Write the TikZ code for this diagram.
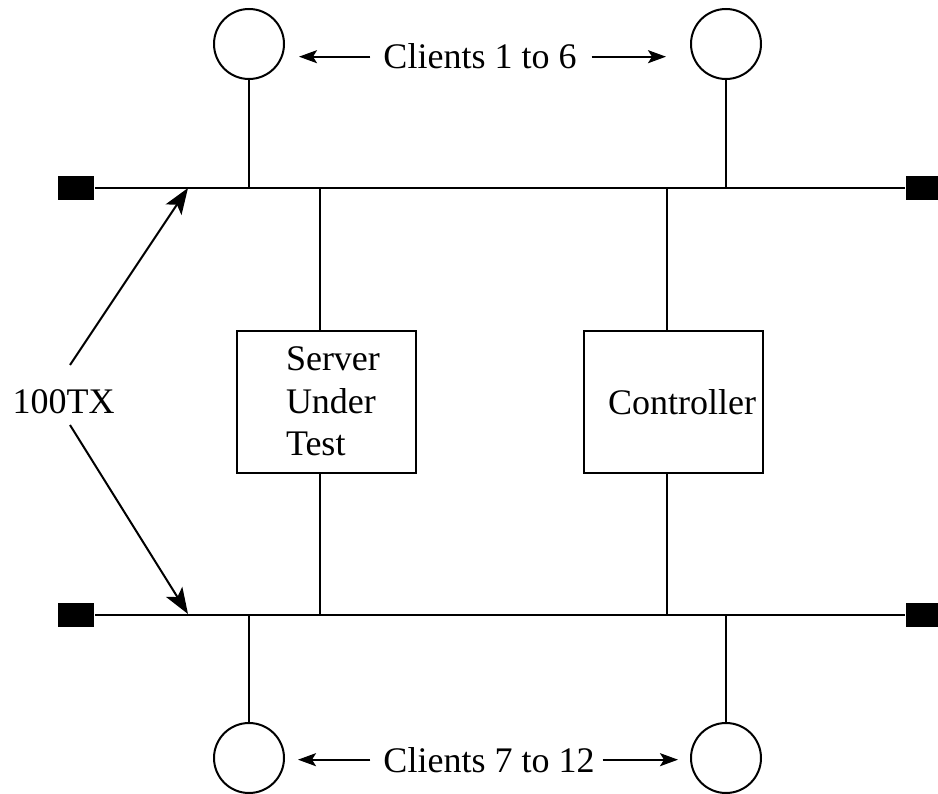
\documentclass[tikz,border=0pt]{standalone}
\usepackage{fontspec}
\setmainfont{Liberation Serif}
\usetikzlibrary{arrows.meta,positioning}

\begin{document}
\begin{tikzpicture}[%
            x=1pt, y=-1pt,
            line width=2pt,
            big/.style={-{Stealth[length=26pt,width=19pt,inset=6pt]}},
            small/.style={-{Stealth[length=18pt,width=13pt,inset=4pt]}},
            client/.style={circle, draw, minimum size=70pt, inner sep=0pt},
            term/.style={rectangle, fill=black, minimum width=36pt, minimum height=24pt, inner sep=0pt},
            box/.style={rectangle, draw, minimum width=179pt, minimum height=142pt, inner sep=0pt},
            lbl/.style={inner sep=0pt, anchor=base, font=\fontsize{36}{42}\selectfont}
            ]
            \useasboundingbox (0,0) rectangle (938,794);

            % terminators and the two buses
            \node[term] (t1) at (76,188) {};
            \node[term] (t2) at (924,188) {};
            \node[term] (t3) at (76,615) {};
            \node[term] (t4) at (924,615) {};
            \draw (t1) -- (t2);
            \draw (t3) -- (t4);

            % clients
            \node[client] (c1) at (249,44) {};
            \node[client] (c2) at (726,44) {};
            \node[client] (c3) at (249,758) {};
            \node[client] (c4) at (726,758) {};
            \draw (c1.south) -- (c1.south |- t1);
            \draw (c2.south) -- (c2.south |- t2);
            \draw (c3.north) -- (c3.north |- t3);
            \draw (c4.north) -- (c4.north |- t4);

            % server and controller
            \node[box] (srv) at (326.5,402) {};
            \node[box] (ctl) at (673,402) {};
            \node[lbl, anchor=north west, align=left, font=\fontsize{36}{42.5}\selectfont] (srvtxt) at (285,346) {Server\\Under\\Test};
            \node[lbl, anchor=base west] (ctltxt) at (607,415) {Controller};
            \coordinate (s1) at (320,188);
            \coordinate (s2) at (320,615);
            \coordinate (k1) at (667,188);
            \coordinate (k2) at (667,615);
            \draw (s1) -- (s1 |- srv.north);
            \draw (s2) -- (s2 |- srv.south);
            \draw (k1) -- (k1 |- ctl.north);
            \draw (k2) -- (k2 |- ctl.south);

            % client labels
            \node[lbl] (top) at (480,69) {Clients 1 to 6};
            \node[lbl] (bot) at (489,772) {Clients 7 to 12};
            \draw[small, shorten <=12pt, shorten >=14pt] (top.west) -- (top.west -| c1.east);
            \draw[small, shorten <=14pt, shorten >=24pt] (top.east) -- (top.east -| c2.west);
            \draw[small, shorten <=12pt, shorten >=13pt] (bot.west) -- (bot.west -| c3.east);
            \draw[small, shorten <=7pt, shorten >=12pt] (bot.east) -- (bot.east -| c4.west);

            % 100TX
            \node[lbl] (tx) at (63.5,414) {100TX};
            \coordinate (a1) at (70,365);
            \coordinate (a2) at (70,425);
            \coordinate (h1) at (188,188);
            \coordinate (h2) at (188,614);
            \draw[big] (a1) -- (h1);
            \draw[big] (a2) -- (h2);
        \end{tikzpicture}
\end{document}
